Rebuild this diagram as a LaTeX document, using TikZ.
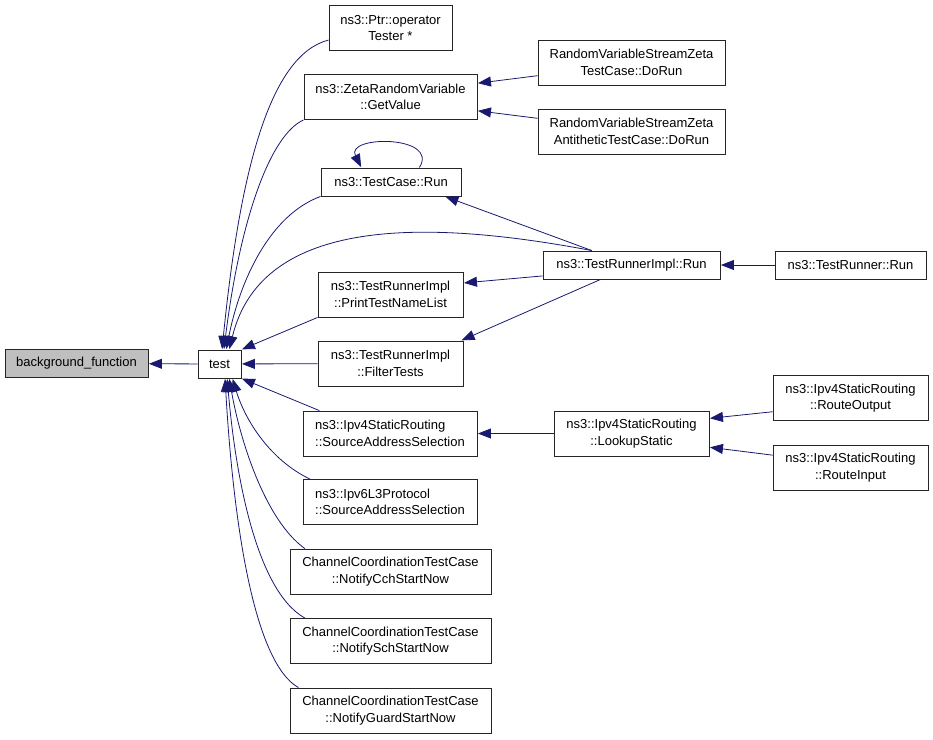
\documentclass[tikz,border=0pt]{standalone}
\usepackage{fontspec}
\setmainfont{Liberation Sans}
\usetikzlibrary{arrows.meta}

\definecolor{edgeblue}{HTML}{191970}

\begin{document}
\begin{tikzpicture}[x=1pt, y=-1pt,
		fn/.style={draw=black!85, line width=0.9pt, align=center, inner sep=0pt,
			font=\fontsize{13}{16.5}\selectfont},
		one/.style={fn, minimum height=28pt},
		two/.style={fn, minimum height=45pt},
		call/.style={draw=edgeblue, line width=0.8pt,
			-{Triangle[length=13pt,width=10pt]}, shorten >=0.5pt}]
		\useasboundingbox (0,0) rectangle (933,739);

		\node[one, fill=black!25, minimum width=143pt] (bg) at (76.5,363.5) {background\_function};
		\node[one, minimum width=43pt] (test) at (219.5,364) {test};

		\node[two, minimum width=123pt] (ptr) at (390.5,28) {ns3::Ptr::operator\\Tester *};
		\node[two, minimum width=173pt] (getval) at (390.5,97) {ns3::ZetaRandomVariable\\::GetValue};
		\node[one, minimum width=140pt] (tcrun) at (391,182) {ns3::TestCase::Run};
		\node[two, minimum width=145pt] (ptnl) at (390.5,294.5) {ns3::TestRunnerImpl\\::PrintTestNameList};
		\node[two, minimum width=145pt] (filter) at (390.5,363.5) {ns3::TestRunnerImpl\\::FilterTests};
		\node[two, minimum width=174pt, align=left] (vfoursas) at (390,433.5) {ns3::Ipv4StaticRouting\\::SourceAddressSelection};
		\node[two, minimum width=174pt, align=left] (vsixsas) at (390,502) {ns3::Ipv6L3Protocol\\::SourceAddressSelection};
		\node[two, minimum width=201pt] (cch) at (390.5,571.5) {ChannelCoordinationTestCase\\::NotifyCchStartNow};
		\node[two, minimum width=201pt] (sch) at (390.5,641) {ChannelCoordinationTestCase\\::NotifySchStartNow};
		\node[two, minimum width=201pt] (guard) at (390.5,710.5) {ChannelCoordinationTestCase\\::NotifyGuardStartNow};

		\node[two, minimum width=187pt] (zetarun) at (631.5,62.5) {RandomVariableStreamZeta\\TestCase::DoRun};
		\node[two, minimum width=187pt] (antirun) at (631.5,131.5) {RandomVariableStreamZeta\\AntitheticTestCase::DoRun};
		\node[one, minimum width=177pt] (trirun) at (631.5,265) {ns3::TestRunnerImpl::Run};
		\node[two, minimum width=155pt] (lookup) at (631.5,433.5) {ns3::Ipv4StaticRouting\\::LookupStatic};

		\node[one, minimum width=151pt] (trun) at (850.5,265) {ns3::TestRunner::Run};
		\node[two, minimum width=155pt] (routeout) at (850.5,398) {ns3::Ipv4StaticRouting\\::RouteOutput};
		\node[two, minimum width=155pt] (routein) at (850.5,467.5) {ns3::Ipv4StaticRouting\\::RouteInput};

		\draw[call] (test) -- (bg);
		\draw[call] (ptr.191) .. controls (270,55) and (240,170) .. (test.80);
		\draw[call] (getval.south west) .. controls (270,135) and (240,220) .. (test.73);
		\draw[call] (tcrun.south west) .. controls (270,215) and (240,280) .. (test.65);
		\draw[call] (trirun.160) .. controls (430,220) and (262,215) .. (test.56);
		\draw[call] (ptnl.south west) -- (test.north east);
		\draw[call] (filter) -- (test);
		\draw[call] (vfoursas.162) -- (test.south east);
		\draw[call] (vsixsas.164) .. controls (270,460) and (245,420) .. (test.312);
		\draw[call] (cch.165) .. controls (265,520) and (240,440) .. (test.304);
		\draw[call] (sch.165) .. controls (255,590) and (235,470) .. (test.298);
		\draw[call] (guard.166) .. controls (250,660) and (232,500) .. (test.291);

		\draw[call] (zetarun.188) -- (getval.9);
		\draw[call] (antirun.172) -- (getval.351);
		\draw[call] (tcrun.27) .. controls (440,135) and (345,135) .. (tcrun.154);
		\draw[call] (trirun.160) -- (tcrun.345);
		\draw[call] (trirun.187) -- (ptnl.9);
		\draw[call] (trirun.205) -- (filter.18);
		\draw[call] (trun) -- (trirun);
		\draw[call] (lookup) -- (vfoursas);
		\draw[call] (routeout.190) -- (lookup.11);
		\draw[call] (routein.171) -- (lookup.350);
	\end{tikzpicture}
\end{document}
